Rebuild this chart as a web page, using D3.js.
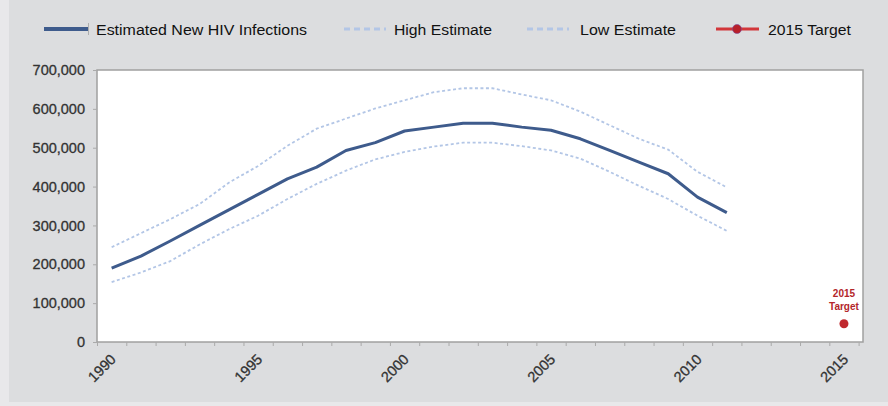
<!DOCTYPE html>
<html lang="en">
<head>
    <meta charset="utf-8">
    <title>Estimated New HIV Infections</title>
    <script src="https://d3js.org/d3.v7.min.js"></script>
    <style>
        body { margin: 0; background: #e8e8ea; }
        svg { display: block; font-family: "Liberation Sans", Arial, sans-serif; }
    </style>
</head>
<body>
<div id="chart"></div>
<script>
    // values
    const years = d3.range(1990, 2012);
    const estimated = [190000, 221000, 260000, 300000, 340000, 380000, 420000, 450000, 493000, 513000, 543000, 553000, 563000, 563000, 553000, 545000, 523000, 493000, 463000, 433000, 373000, 333000];
    const highEst = [244000, 280000, 316000, 355000, 410000, 453000, 505000, 549000, 575000, 601000, 622000, 643000, 653000, 653000, 637000, 622000, 593000, 558000, 523000, 495000, 438000, 398000];
    const lowEst = [154000, 179000, 208000, 251000, 290000, 325000, 368000, 407000, 441000, 470000, 489000, 503000, 513000, 513000, 504000, 493000, 472000, 438000, 402000, 368000, 325000, 286000];
    const targetYear = 2015;
    const targetValue = 47000;
    const yTicks = [0, 100000, 200000, 300000, 400000, 500000, 600000, 700000];
    const xLabels = [1990, 1995, 2000, 2005, 2010, 2015];
    const legendItems = ["Estimated New HIV Infections", "High Estimate", "Low Estimate", "2015 Target"];

    const width = 888, height = 406;
    const margin = {top: 70, right: 25, bottom: 64, left: 97};

    const svg = d3.select("#chart").append("svg")
        .attr("width", width).attr("height", height);

    svg.append("rect").attr("x", 9).attr("y", 0)
        .attr("width", width - 9).attr("height", 402).attr("fill", "#dcdddf");

    const x = d3.scaleLinear()
        .domain([1989.5, 2015.65])
        .range([margin.left, width - margin.right]);
    const y = d3.scaleLinear()
        .domain([0, 700000])
        .range([height - margin.bottom, margin.top]);

    // plot area
    svg.append("rect")
        .attr("x", margin.left).attr("y", margin.top)
        .attr("width", width - margin.left - margin.right)
        .attr("height", height - margin.top - margin.bottom)
        .attr("fill", "#fff").attr("stroke", "#a0a0a0").attr("stroke-width", 1.5);

    // y axis
    const yAxis = svg.append("g")
        .attr("transform", `translate(${margin.left},0)`)
        .call(d3.axisLeft(y).tickValues(yTicks).tickSize(4).tickPadding(8)
            .tickFormat(d3.format(",")));
    yAxis.select(".domain").remove();
    yAxis.selectAll("line").attr("stroke", "#aaa");
    yAxis.selectAll("text").attr("font-size", 14.5).attr("fill", "#333")
        .attr("font-family", "Liberation Sans, Arial, sans-serif")
        .attr("stroke", "#333").attr("stroke-width", 0.3);

    // x axis ticks between categories
    const xAxis = svg.append("g")
        .attr("transform", `translate(0,${height - margin.bottom})`)
        .call(d3.axisBottom(x).tickValues(d3.range(1989.5, 2016, 1)).tickSize(4).tickFormat(""));
    xAxis.select(".domain").remove();
    xAxis.selectAll("line").attr("stroke", "#aaa");

    svg.append("g").selectAll("text")
        .data(xLabels)
        .join("text")
        .attr("transform", d => `translate(${x(d) - 2},${height - margin.bottom + 11}) rotate(-45)`)
        .attr("text-anchor", "end")
        .attr("dy", "0.7em")
        .attr("font-size", 14.5)
        .attr("fill", "#333")
        .attr("stroke", "#333").attr("stroke-width", 0.3)
        .text(d => d);

    const line = d3.line()
        .x((d, i) => x(years[i]))
        .y(d => y(d));

    svg.append("path").datum(highEst)
        .attr("fill", "none").attr("stroke", "#b3c6e6").attr("stroke-width", 1.8)
        .attr("stroke-dasharray", "3,2.5").attr("d", line);
    svg.append("path").datum(lowEst)
        .attr("fill", "none").attr("stroke", "#b3c6e6").attr("stroke-width", 1.8)
        .attr("stroke-dasharray", "3,2.5").attr("d", line);
    svg.append("path").datum(estimated)
        .attr("fill", "none").attr("stroke", "#3e5b8c").attr("stroke-width", 3)
        .attr("stroke-linejoin", "round").attr("d", line);

    // 2015 target
    svg.append("circle")
        .attr("cx", x(targetYear)).attr("cy", y(targetValue)).attr("r", 4.5)
        .attr("fill", "#c0282e");
    svg.append("text")
        .attr("x", x(targetYear)).attr("y", y(targetValue) - 27)
        .attr("text-anchor", "middle").attr("font-size", 10).attr("font-weight", "bold")
        .attr("fill", "#b3262b")
        .selectAll("tspan").data(["2015", "Target"]).join("tspan")
        .attr("x", x(targetYear)).attr("dy", (d, i) => i ? 13 : 0)
        .text(d => d);

    // legend
    const legendX = [44, 344, 527, 716];
    const lg = svg.append("g").attr("transform", "translate(0,29)");
    lg.append("line").attr("x1", legendX[0]).attr("x2", legendX[0] + 44)
        .attr("stroke", "#3e5b8c").attr("stroke-width", 4);
    lg.append("line").attr("x1", legendX[0] + 44.5).attr("x2", legendX[0] + 44.5)
        .attr("y1", -6).attr("y2", 6).attr("stroke", "#999").attr("stroke-width", 0.7);
    [1, 2].forEach(i => {
        lg.append("line").attr("x1", legendX[i]).attr("x2", legendX[i] + 42)
            .attr("stroke", "#b3c6e6").attr("stroke-width", 3).attr("stroke-dasharray", "6,4");
    });
    lg.append("line").attr("x1", legendX[3]).attr("x2", legendX[3] + 43)
        .attr("stroke", "#d2363a").attr("stroke-width", 3);
    lg.append("circle").attr("cx", legendX[3] + 21).attr("r", 4.5).attr("fill", "#b8202a")
        .attr("stroke", "#7a4a9a").attr("stroke-width", 0.6);

    const legendTextX = [96, 394, 580, 768];
    const legendTextW = [211, 98, 96, 83];
    lg.selectAll("text.leg").data(legendItems).join("text")
        .attr("class", "leg")
        .attr("x", (d, i) => legendTextX[i])
        .attr("dy", "0.36em")
        .attr("font-size", 15.5)
        .attr("fill", "#111")
        .attr("textLength", (d, i) => legendTextW[i])
        .attr("lengthAdjust", "spacingAndGlyphs")
        .text(d => d);
</script>
</body>
</html>
